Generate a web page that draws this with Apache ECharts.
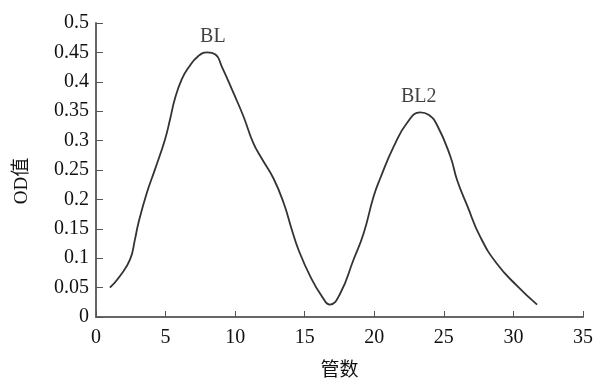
<!DOCTYPE html>
<html>
<head>
<meta charset="utf-8">
<script src="https://cdn.jsdelivr.net/npm/echarts@6/dist/echarts.min.js"></script>
<style>html,body{margin:0;padding:0;background:#fff;}#c{width:594px;height:378px;}</style>
</head>
<body>
<div id="c"></div>
<script>
const tubeNumbers = [1, 1.7, 2.45, 2.8, 3.05, 3.65, 4.24, 4.96, 5.32, 5.68, 6.16, 6.64, 7.36, 8.0, 8.56, 9.04, 9.88, 10.6, 11.3, 11.9, 12.75, 13.5, 14.08, 14.56, 15.4, 16.24, 16.8, 17.55, 18.5, 19.23, 19.95, 20.43, 21.4, 22.35, 23.3, 23.9, 24.5, 25.47, 25.95, 26.7, 27.6, 28.8, 30.3, 31.7];
const odValues = [0.05, 0.069, 0.098, 0.132, 0.16, 0.211, 0.251, 0.302, 0.336, 0.372, 0.404, 0.424, 0.444, 0.45, 0.447, 0.426, 0.381, 0.341, 0.296, 0.27, 0.236, 0.193, 0.148, 0.114, 0.069, 0.035, 0.021, 0.04, 0.097, 0.142, 0.205, 0.236, 0.29, 0.33, 0.348, 0.344, 0.327, 0.273, 0.233, 0.188, 0.137, 0.091, 0.052, 0.021];
const peakNames = ['BL', 'BL2'];
const peakX = [8.4, 23.2];
const peakY = [0.476, 0.374];

const serif = '"Liberation Serif", "Times New Roman", "Noto Sans CJK SC", serif';
const chart = echarts.init(document.getElementById('c'));
chart.setOption({
  animation: false,
  backgroundColor: '#fff',
  grid: {left: 96, right: 11, top: 23, bottom: 61, containLabel: false, outerBoundsMode: 'none'},
  xAxis: {
    type: 'value', min: 0, max: 35, interval: 5,
    name: '管数', nameLocation: 'middle', nameGap: 42,
    nameTextStyle: {fontFamily: '"Noto Sans CJK SC", serif', fontSize: 19, color: '#111'},
    axisLine: {lineStyle: {color: '#666', width: 2}},
    axisTick: {inside: true, length: 6, lineStyle: {color: '#555', width: 1}},
    axisLabel: {fontFamily: serif, fontSize: 20, color: '#111', margin: 11},
    splitLine: {show: false}
  },
  yAxis: {
    type: 'value', min: 0, max: 0.5, interval: 0.05,
    name: 'OD值', nameLocation: 'middle', nameGap: 64, nameRotate: 90,
    nameTextStyle: {fontFamily: serif, fontSize: 19, color: '#111', padding: [0, 22, 0, 0]},
    axisLine: {show: true, lineStyle: {color: '#666', width: 2}},
    axisTick: {show: true, inside: true, length: 7, lineStyle: {color: '#555', width: 1}},
    axisLabel: {fontFamily: serif, fontSize: 20, color: '#111', margin: 7},
    splitLine: {show: false}
  },
  series: [
    {
      type: 'line',
      data: tubeNumbers.map((x, i) => [x, odValues[i]]),
      smooth: 0.5,
      showSymbol: false,
      symbol: 'none',
      lineStyle: {color: '#333', width: 1.8}
    },
    {
      type: 'scatter',
      data: peakNames.map((n, i) => ({name: n, value: [peakX[i], peakY[i]]})),
      symbolSize: 0,
      label: {show: true, position: 'inside', formatter: '{b}', fontFamily: serif, fontSize: 20, color: '#111'},
      silent: true
    }
  ]
});
</script>
</body>
</html>
